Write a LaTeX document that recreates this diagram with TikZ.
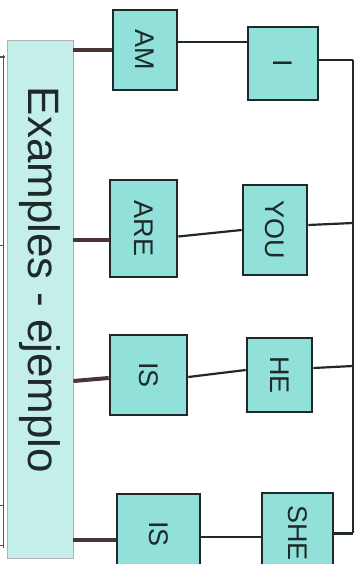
\documentclass[tikz,border=0pt]{standalone}
\usepackage{fontspec}
\usepackage{graphicx}
\setmainfont{Liberation Sans}
\definecolor{boxfill}{HTML}{92E0DA}
\definecolor{bigfill}{HTML}{C4EEEA}
\definecolor{ink}{HTML}{1E2A2A}
\definecolor{brown}{HTML}{4A3434}
\tikzset{
  word/.style={draw=ink, line width=2.6pt, fill=boxfill, inner sep=0pt, text=ink,
    font=\fontsize{27}{27}\selectfont, anchor=center},
  link/.style={draw=ink, line width=2.2pt},
  stub/.style={draw=brown, line width=4pt},
  rail/.style={draw=ink!80, line width=1.4pt}
}
\newcommand{\vtext}[1]{\rotatebox{-90}{#1}}
\begin{document}
\begin{tikzpicture}[x=1pt,y=-1pt]
\useasboundingbox (0,0) rectangle (359,564);
\clip (0,0) rectangle (359,564);
\fill[white] (0,0) rectangle (359,564);
% left rail
\draw[rail, line width=1pt] (3,55) -- (3,548);
\draw[rail, line width=2pt] (0,57) -- (5,57);
\draw[rail, line width=1pt] (0,245) -- (4,245);
\draw[rail, line width=1pt] (0,505) -- (4,505);
\draw[rail, line width=1pt] (0,545) -- (4,545);
% big label box
\node[draw=gray!60, line width=0.8pt, fill=bigfill, minimum width=66pt, minimum height=518pt,
      inner sep=0pt] (big) at (40,299) {};
\node[text=ink, rotate=-90, font=\fontsize{44}{44}\selectfont] (lbl) at (40,280) {Examples - ejemplo};
% word boxes
\node[word, minimum height=80pt, minimum width=64pt] (am) at (145,50) {\vtext{AM}};
\node[word, minimum height=97pt, minimum width=67pt] (are) at (143.5,228.5) {\vtext{ARE}};
\node[word, minimum height=80pt, minimum width=77pt] (is1) at (148.5,375) {\vtext{IS}};
\node[word, minimum height=80pt, minimum width=83pt] (is2) at (158.5,534) {\vtext{IS}};
\node[word, minimum height=73pt, minimum width=70pt] (i) at (283,63.5) {\vtext{I}};
\node[word, minimum height=90pt, minimum width=64pt] (you) at (275,230) {\vtext{YOU}};
\node[word, minimum height=74pt, minimum width=65pt] (he) at (279.5,375) {\vtext{HE}};
\node[word, minimum height=80pt, minimum width=71pt] (she) at (297.5,533) {\vtext{SHE}};
% connectors from big box
\draw[stub] (big.east |- am.west) -- (am.west);
\draw[stub] ([yshift=-11pt]big.east |- are.west) -- ([yshift=-11pt]are.west);
\draw[stub] ([yshift=-6pt]big.east |- is1.west) -- ([yshift=-3pt]is1.west);
\draw[stub] ([yshift=-6pt]big.east |- is2.west) -- ([yshift=-6pt]is2.west);
% middle connectors
\draw[link] ([yshift=8pt]am.east) -- ([yshift=21.5pt]i.west);
\draw[link] ([yshift=-8pt]are.east) -- (you.west);
\draw[link] ([yshift=-2pt]is1.east) -- ([yshift=5pt]he.west);
\draw[link] ([yshift=-3pt]is2.east) -- ([yshift=-4pt]she.west);
% right rail
\coordinate (r1) at (353,60);
\coordinate (r4) at (353,533);
\draw[link] ([yshift=3.5pt]i.east) -- (r1);
\draw[link] ([yshift=5pt]you.east) -- (353,223);
\draw[link] ([yshift=7pt]he.east) -- (353,366);
\draw[link, line width=3pt] (she.east) -- (r4);
\draw[link, line width=1.8pt] (r1) -- (r4);
\end{tikzpicture}
\end{document}
